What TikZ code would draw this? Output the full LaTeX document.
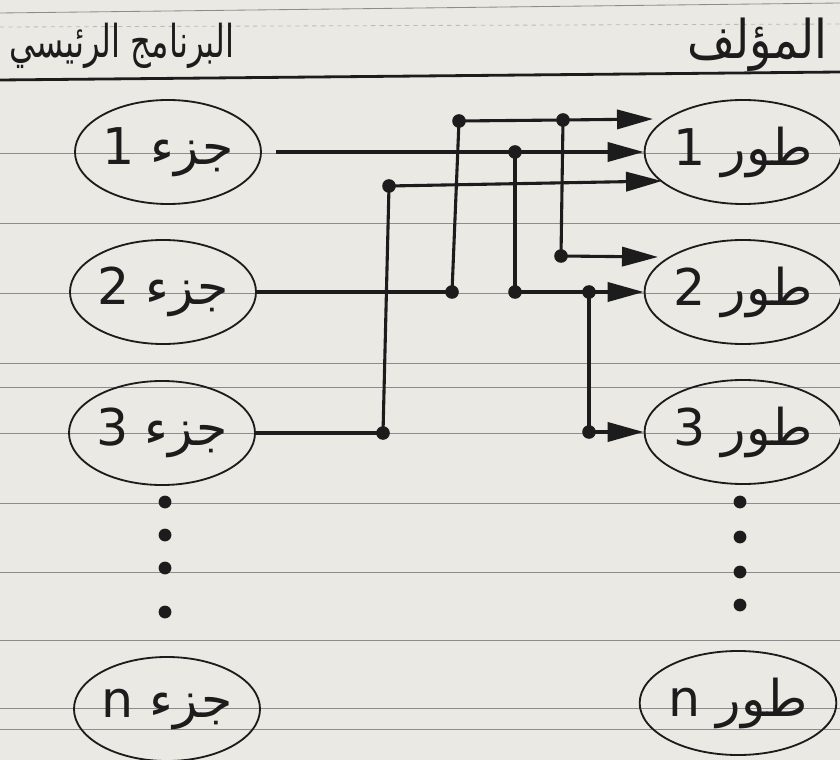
\documentclass[tikz,border=0pt]{standalone}
\usepackage{fontspec}
\newfontfamily\arabicfont[Script=Arabic]{DejaVu Sans}
\TeXXeTstate=1
\usetikzlibrary{arrows.meta,shapes.geometric}
\definecolor{paper}{RGB}{235,233,228}
\definecolor{ink}{RGB}{28,28,28}
\definecolor{ruleline}{RGB}{140,140,140}

\begin{document}
\begin{tikzpicture}[x=0.025cm,y=-0.025cm,
  part/.style={ellipse, draw=ink, line width=1.3pt, minimum width=4.65cm,
    minimum height=2.6cm, inner sep=0pt, text=ink,
    font=\arabicfont\fontsize{36}{36}\selectfont},
  heading/.style={text=ink, inner sep=0pt},
  wire/.style={draw=ink, line width=2.2pt},
  feed/.style={wire, -{Triangle[length=0.9cm,width=0.48cm]}},
  ruling/.style={draw=ruleline, line width=0.6pt},
  junction/.style={fill=ink},
  moredot/.style={circle, fill=ink, inner sep=0pt, minimum size=0.32cm}
]
% page frame: the sheet is clipped to its own size
\clip (0,0) rectangle (840,760);
\fill[paper] (0,0) rectangle (840,760);
\draw[ruling] (0,13) -- (840,3);
\draw[ruling, dashed, draw opacity=0.5] (0,27) -- (840,24);
\foreach \yy in {153,223,293,363,387,433,503,572,640,708,729}
  \draw[ruling] (0,\yy) -- (840,\yy);
\draw[ink, line width=2pt] (0,80) -- (840,72);

% column headings
\node[heading, font=\arabicfont\fontsize{23}{23}\selectfont] (hleft) at (122,46)
  {\scalebox{1}[1.4]{\beginR البرنامج الرئيسي\endR}};
\node[heading, font=\arabicfont\fontsize{33}{33}\selectfont] (hright) at (757,45)
  {\scalebox{1}[1.15]{\beginR المؤلف\endR}};

% parts of the main program
\node[part] (p1) at (168,152) {\beginR جزء 1\endR};
\node[part] (p2) at (163,292) {\beginR جزء 2\endR};
\node[part] (p3) at (162,433) {\beginR جزء 3\endR};
\node[part] (pn) at (167,709) {\beginR جزء n\endR};

% phases of the compiler
\node[part, minimum width=4.8cm] (t1) at (743,152) {\beginR طور 1\endR};
\node[part, minimum width=4.8cm] (t2) at (743,292) {\beginR طور 2\endR};
\node[part, minimum width=4.8cm] (t3) at (743,432) {\beginR طور 3\endR};
\node[part, minimum width=4.8cm] (tn) at (738,703) {\beginR طور n\endR};

% vertical ellipses between the numbered items and n
\node[moredot] (ld1) at (165,502) {};
\node[moredot] (ld2) at (165,535) {};
\node[moredot] (ld3) at (165,568) {};
\node[moredot] (ld4) at (165,612) {};
\node[moredot] (rd1) at (740,502) {};
\node[moredot] (rd2) at (740,537) {};
\node[moredot] (rd3) at (740,572) {};
\node[moredot] (rd4) at (740,605) {};

% junction points of the wiring
\coordinate (A) at (459,121);
\coordinate (B) at (563,120);
\coordinate (C) at (515,152);
\coordinate (D) at (389,186);
\coordinate (J) at (561,256);
\coordinate (E) at (452,292);
\coordinate (F) at (515,292);
\coordinate (G) at (589,292);
\coordinate (H) at (589,432);
\coordinate (I) at (383,433);
% free arrow ends
\coordinate (topend) at (653,119);
\coordinate (midend) at (662,181);
\coordinate (lowend) at (658,257);

% wiring
\draw[feed, shorten <=10pt] (p1.east) -- (t1.west);
\draw[feed] (A) -- (B) -- (topend);
\draw[feed] (D) -- (midend);
\draw[feed] (J) -- (lowend);
\draw[feed] (F) -- (t2.west);
\draw[feed] (H) -- (t3.west);
\draw[wire] (p2.east) -- (E);
\draw[wire] (p3.east) -- (I);
\draw[wire] (A) -- (E);
\draw[wire] (B) -- (J);
\draw[wire] (C) -- (F);
\draw[wire] (D) -- (I);
\draw[wire] (G) -- (H);

% junction dots
\foreach \pt in {A,B,C,D,J,E,F,G,H,I}
  \fill[junction] (\pt) circle[radius=0.17cm];
\end{tikzpicture}
\end{document}
